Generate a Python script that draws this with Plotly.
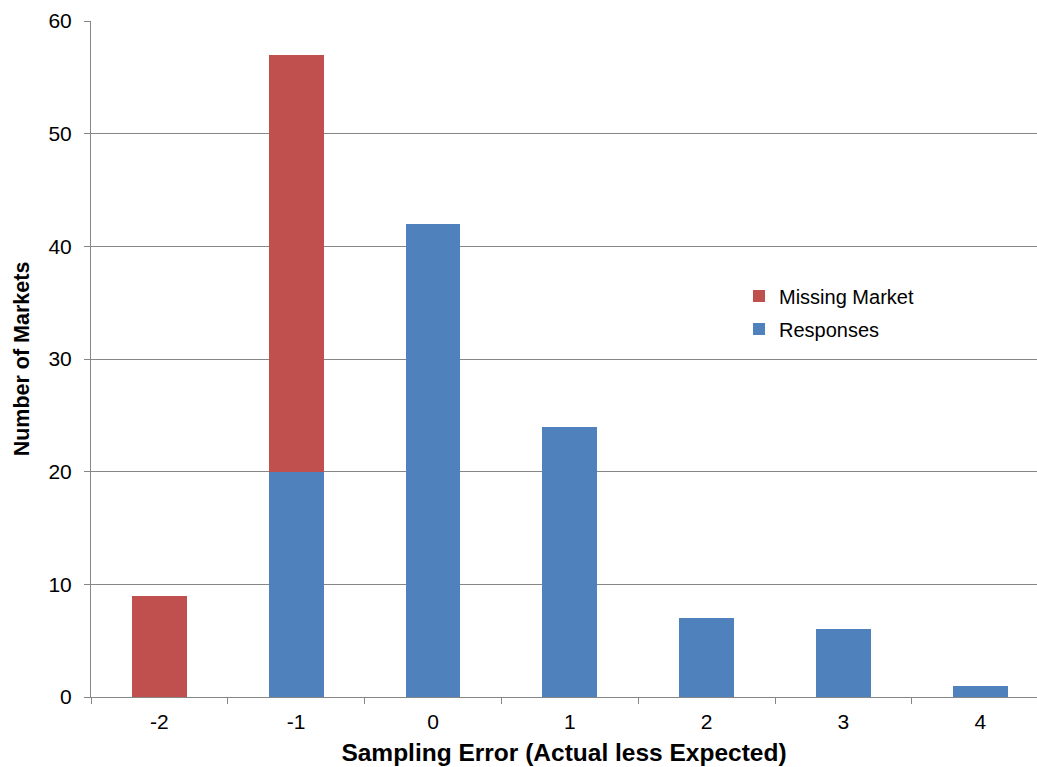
import plotly.graph_objects as go

# Sampling error categories (actual less expected)
categories = ["-2", "-1", "0", "1", "2", "3", "4"]
responses = [0, 20, 42, 24, 7, 6, 1]
missing_market = [9, 37, 0, 0, 0, 0, 0]

fig = go.Figure()
fig.add_trace(go.Bar(
    x=categories, y=responses, name="Responses", legendgroup="resp",
    legendrank=2,
    marker=dict(color="#4F81BD", line=dict(width=0)),
    width=0.4,
))
fig.add_trace(go.Bar(
    x=categories, y=missing_market, name="Missing Market", legendgroup="miss",
    legendrank=1,
    marker=dict(color="#C0504D", line=dict(width=0)),
    width=0.4,
))

font_family = "Liberation Sans, Arial, sans-serif"

fig.update_layout(
    barmode="stack",
    width=1037, height=767,
    margin=dict(l=91, r=0, t=21, b=70),
    paper_bgcolor="white",
    plot_bgcolor="white",
    font=dict(family=font_family, size=21, color="#000000"),
    legend=dict(
        x=0.685, y=0.622, xanchor="left", yanchor="top",
        traceorder="grouped",
        font=dict(size=20, color="#000000"),
        bgcolor="rgba(0,0,0,0)",
        itemwidth=30, tracegroupgap=4,
    ),
    xaxis=dict(
        type="category",
        range=[-0.5, 6.415],
        tickson="boundaries",
        ticks="outside", ticklen=6, tickcolor="#868686",
        showline=True, linecolor="#868686", linewidth=1,
        showgrid=False,
        tickfont=dict(size=21),
        ticklabelstandoff=6,
        title=dict(text="<b>Sampling Error (Actual less Expected)</b>",
                   font=dict(size=24.5), standoff=11),
    ),
    yaxis=dict(
        range=[0, 60], dtick=10,
        ticks="outside", ticklen=6, tickcolor="#868686",
        showline=True, linecolor="#868686", linewidth=1,
        showgrid=True, gridcolor="#868686", gridwidth=1,
        zeroline=False,
        tickfont=dict(size=21),
        ticklabelstandoff=8,
        title=dict(text="<b>Number of Markets</b>", font=dict(size=21.5), standoff=12),
    ),
    bargap=0.6,
)

fig.write_html("out.html")
